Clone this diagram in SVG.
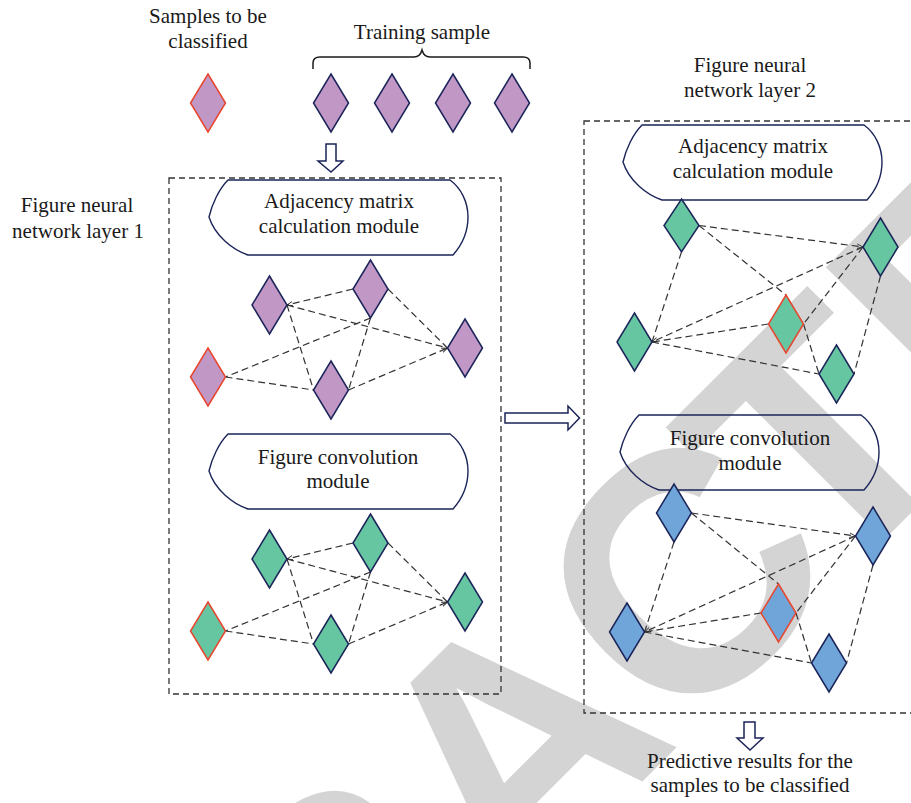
<svg xmlns="http://www.w3.org/2000/svg" width="911" height="803" viewBox="0 0 911 803">
  <style>
    .lbl { font-family: "Liberation Serif", "Times New Roman", serif; font-size: 21px; fill: #1a1a1a; text-anchor: middle; }
    .box { fill: none; stroke: #333; stroke-width: 1.3; stroke-dasharray: 6 4; }
    .mod { fill: none; stroke: #1b2458; stroke-width: 1.4; }
    .dia { stroke: #1b2458; stroke-width: 1.5; stroke-linejoin: miter; }
    .sel { stroke: #e8462e; stroke-width: 1.5; }
    .pur { fill: #c197c6; }
    .grn { fill: #66c6a1; }
    .blu { fill: #6fa5d9; }
    .edge { fill: none; stroke: #333; stroke-width: 1.2; stroke-dasharray: 7 4; }
    .arr { fill: #fff; stroke: #1b2458; stroke-width: 1.5; stroke-linejoin: miter; }
    .wm { font-family: "Liberation Sans", Arial, sans-serif; font-weight: bold; font-size: 340px; fill: #d4d4d4; }
  </style>
  <defs>
    <marker id="tip" viewBox="0 0 8 8" refX="8" refY="4" markerWidth="6" markerHeight="6" orient="auto" markerUnits="userSpaceOnUse">
      <path d="M0,1 L8,4 L0,7" fill="none" stroke="#333" stroke-width="1.2"/>
    </marker>
    <path id="module" d="M19,0 H241 C252,8 259,22 259,37 C259,53 252,66 244,75 H39 C24,70 6,56 0,37 C3,24 10,9 19,0 Z"/>
  </defs>

  <!-- background stamp (the A sits centred on 596,828) -->
  <g transform="translate(-12,-18)">
    <text class="wm" x="-440" y="846" transform="rotate(-45 608 846)">RETRA<tspan dx="-6">C</tspan><tspan dx="-34">TED</tspan></text>
  </g>

  <!-- headings -->
  <g id="labels">
    <text class="lbl" x="208" y="23">Samples to be</text>
    <text class="lbl" x="208" y="48">classified</text>
    <text class="lbl" x="422" y="39">Training sample</text>
    <text class="lbl" x="77" y="212">Figure neural</text>
    <text class="lbl" x="78" y="238">network layer 1</text>
    <text class="lbl" x="750" y="72">Figure neural</text>
    <text class="lbl" x="750" y="97">network layer 2</text>
    <text class="lbl" x="750" y="768">Predictive results for the</text>
    <text class="lbl" x="750" y="792">samples to be classified</text>
  </g>

  <!-- brace over the training samples -->
  <path d="M313,69 V63 Q313,57 320,57 H414 Q420,57 422,50 Q424,57 430,57 H523 Q530,57 530,63 V69" fill="none" stroke="#1a1a1a" stroke-width="1.5"/>

  <!-- layer frames -->
  <g id="layer1">
    <rect class="box" x="169" y="178" width="332" height="516"/>
  </g>
  <g id="layer2">
    <rect class="box" x="584" y="121" width="340" height="592"/>
  </g>

  <!-- modules -->
  <g id="adj1">
    <use href="#module" class="mod" transform="translate(209,180)"/>
    <text class="lbl" x="339" y="208">Adjacency matrix</text>
    <text class="lbl" x="339" y="233">calculation module</text>
  </g>
  <g id="conv1">
    <use href="#module" class="mod" transform="translate(209,434)"/>
    <text class="lbl" x="338" y="464">Figure convolution</text>
    <text class="lbl" x="338" y="488">module</text>
  </g>
  <g id="adj2">
    <use href="#module" class="mod" transform="translate(623,125)"/>
    <text class="lbl" x="753" y="153">Adjacency matrix</text>
    <text class="lbl" x="753" y="178">calculation module</text>
  </g>
  <g id="conv2">
    <use href="#module" class="mod" transform="translate(620,415)"/>
    <text class="lbl" x="750" y="445">Figure convolution</text>
    <text class="lbl" x="750" y="470">module</text>
  </g>

  <!-- connectors -->
  <g id="connectors">
    <!-- layer 1, adjacency graph -->
    <line class="edge" x1="353" y1="289" x2="287" y2="305" marker-end="url(#tip)"/>
    <line class="edge" x1="287" y1="305" x2="447.5" y2="348"/>
    <line class="edge" x1="287" y1="305" x2="313.5" y2="390"/>
    <line class="edge" x1="370.5" y1="318" x2="225.5" y2="377"/>
    <line class="edge" x1="370.5" y1="318" x2="348.5" y2="390"/>
    <line class="edge" x1="388" y1="289" x2="447.5" y2="348"/>
    <line class="edge" x1="225.5" y1="377" x2="313.5" y2="390"/>
    <line class="edge" x1="348.5" y1="390" x2="447.5" y2="348" marker-end="url(#tip)"/>
    <!-- layer 1, convolution graph -->
    <line class="edge" x1="353" y1="543" x2="287" y2="559" marker-end="url(#tip)"/>
    <line class="edge" x1="287" y1="559" x2="447.5" y2="602"/>
    <line class="edge" x1="287" y1="559" x2="313.5" y2="644"/>
    <line class="edge" x1="370.5" y1="572" x2="225.5" y2="631"/>
    <line class="edge" x1="370.5" y1="572" x2="348.5" y2="644"/>
    <line class="edge" x1="388" y1="543" x2="447.5" y2="602"/>
    <line class="edge" x1="225.5" y1="631" x2="313.5" y2="644"/>
    <line class="edge" x1="348.5" y1="644" x2="447.5" y2="602" marker-end="url(#tip)"/>
    <!-- layer 2, adjacency graph -->
    <line class="edge" x1="699" y1="225.5" x2="863" y2="247" marker-end="url(#tip)"/>
    <line class="edge" x1="699" y1="225.5" x2="786" y2="295"/>
    <line class="edge" x1="681.5" y1="252" x2="652" y2="342"/>
    <line class="edge" x1="863" y1="247" x2="652" y2="342" marker-end="url(#tip)"/>
    <line class="edge" x1="863" y1="247" x2="803.5" y2="324"/>
    <line class="edge" x1="768.5" y1="324" x2="652" y2="342"/>
    <line class="edge" x1="652" y1="342" x2="819" y2="374"/>
    <line class="edge" x1="803.5" y1="324" x2="819" y2="374"/>
    <line class="edge" x1="880.5" y1="276" x2="854" y2="374"/>
    <!-- layer 2, convolution graph -->
    <line class="edge" x1="691.5" y1="513" x2="855.5" y2="536" marker-end="url(#tip)"/>
    <line class="edge" x1="691.5" y1="513" x2="778.5" y2="584"/>
    <line class="edge" x1="674" y1="542" x2="644.5" y2="632"/>
    <line class="edge" x1="855.5" y1="536" x2="644.5" y2="632" marker-end="url(#tip)"/>
    <line class="edge" x1="855.5" y1="536" x2="796" y2="613"/>
    <line class="edge" x1="761" y1="613" x2="644.5" y2="632"/>
    <line class="edge" x1="644.5" y1="632" x2="811.5" y2="663"/>
    <line class="edge" x1="796" y1="613" x2="811.5" y2="663"/>
    <line class="edge" x1="873" y1="565" x2="846.5" y2="663"/>

    <!-- flow arrows -->
    <path class="arr" d="M326,144 H336 V161 H343 L331,172 L318,161 H326 Z"/>
    <path class="arr" d="M505,413 H568 V406 L579.5,418 L568,430 V423 H505 Z"/>
    <path class="arr" d="M744,722 H755 V738 H763 L750,750 L737,738 H744 Z"/>
  </g>

  <!-- samples row -->
  <g id="query"><polygon class="pur sel" points="208,74 225.5,103 208,132 190.5,103"/></g>
  <g id="train1"><polygon class="pur dia" points="331,74 348.5,103 331,132 313.5,103"/></g>
  <g id="train2"><polygon class="pur dia" points="392,74 409.5,103 392,132 374.5,103"/></g>
  <g id="train3"><polygon class="pur dia" points="453,74 470.5,103 453,132 435.5,103"/></g>
  <g id="train4"><polygon class="pur dia" points="512,74 529.5,103 512,132 494.5,103"/></g>

  <!-- layer 1 adjacency nodes -->
  <g id="a1n1"><polygon class="pur dia" points="269.5,276 287,305 269.5,334 252,305"/></g>
  <g id="a1n2"><polygon class="pur dia" points="370.5,260 388,289 370.5,318 353,289"/></g>
  <g id="a1n3"><polygon class="pur dia" points="465,319 482.5,348 465,377 447.5,348"/></g>
  <g id="a1n4"><polygon class="pur dia" points="331,361 348.5,390 331,419 313.5,390"/></g>
  <g id="a1q"><polygon class="pur sel" points="208,348 225.5,377 208,406 190.5,377"/></g>

  <!-- layer 1 convolution nodes -->
  <g id="c1n1"><polygon class="grn dia" points="269.5,530 287,559 269.5,588 252,559"/></g>
  <g id="c1n2"><polygon class="grn dia" points="370.5,514 388,543 370.5,572 353,543"/></g>
  <g id="c1n3"><polygon class="grn dia" points="465,573 482.5,602 465,631 447.5,602"/></g>
  <g id="c1n4"><polygon class="grn dia" points="331,615 348.5,644 331,673 313.5,644"/></g>
  <g id="c1q"><polygon class="grn sel" points="208,602 225.5,631 208,660 190.5,631"/></g>

  <!-- layer 2 adjacency nodes -->
  <g id="a2n1"><polygon class="grn dia" points="681.5,199 699,225.5 681.5,252 664,225.5"/></g>
  <g id="a2n2"><polygon class="grn dia" points="880.5,218 898,247 880.5,276 863,247"/></g>
  <g id="a2n3"><polygon class="grn dia" points="634.5,313 652,342 634.5,371 617,342"/></g>
  <g id="a2n4"><polygon class="grn dia" points="836.5,345 854,374 836.5,403 819,374"/></g>
  <g id="a2q"><polygon class="grn sel" points="786,295 803.5,324 786,353 768.5,324"/></g>

  <!-- layer 2 convolution nodes -->
  <g id="c2n1"><polygon class="blu dia" points="674,484 691.5,513 674,542 656.5,513"/></g>
  <g id="c2n2"><polygon class="blu dia" points="873,507 890.5,536 873,565 855.5,536"/></g>
  <g id="c2n3"><polygon class="blu dia" points="627,603 644.5,632 627,661 609.5,632"/></g>
  <g id="c2n4"><polygon class="blu dia" points="829,634 846.5,663 829,692 811.5,663"/></g>
  <g id="c2q"><polygon class="blu sel" points="778.5,584 796,613 778.5,642 761,613"/></g>
</svg>
